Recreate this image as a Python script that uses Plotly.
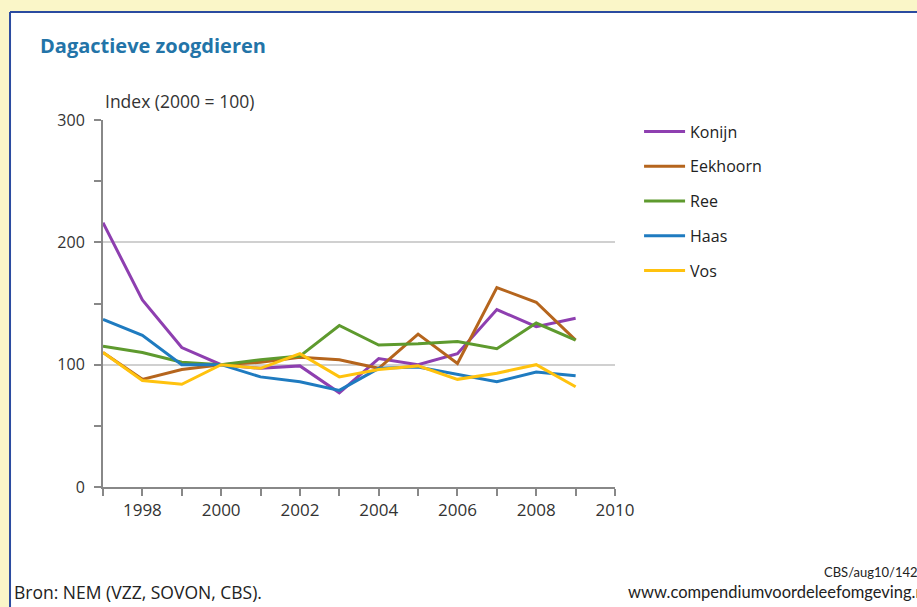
import plotly.graph_objects as go

years = list(range(1997, 2010))
konijn = [216, 153, 114, 100, 97, 99, 77, 105, 100, 109, 145, 131, 138]
eekhoorn = [110, 88, 96, 100, 102, 106, 104, 97, 125, 101, 163, 151, 120]
ree = [115, 110, 102, 100, 104, 107, 132, 116, 117, 119, 113, 134, 120]
haas = [137, 124, 100, 100, 90, 86, 79, 97, 98, 92, 86, 94, 91]
vos = [110, 87, 84, 100, 97, 109, 90, 96, 99, 88, 93, 100, 82]

series = [
    ("Konijn", konijn, "#8E3FB0"),
    ("Eekhoorn", eekhoorn, "#B5651D"),
    ("Ree", ree, "#5E9A2E"),
    ("Haas", haas, "#1F7BC0"),
    ("Vos", vos, "#FFC20E"),
]

x_ticks = [1998, 2000, 2002, 2004, 2006, 2008, 2010]
y_ticks = [0, 100, 200, 300]

fig = go.Figure()
for name, vals, col in series:
    fig.add_trace(go.Scatter(x=years, y=vals, name=name, mode="lines",
                             legendgroup=name,
                             line=dict(color=col, width=3)))

font = "'Open Sans', sans-serif"
yellow = "#FAF6C8"
border = "#2B4BA0"

fig.update_layout(
    width=917, height=607,
    margin=dict(l=103, r=302, t=120, b=120),
    paper_bgcolor="white",
    plot_bgcolor="white",
    font=dict(family=font, size=15, color="#333333"),
    showlegend=True,
    legend=dict(x=1.047, y=1.015, xanchor="left", yanchor="top",
                bgcolor="rgba(0,0,0,0)", font=dict(size=16, color="#222222"),
                tracegroupgap=11, itemwidth=41),
    xaxis=dict(range=[1997, 2010], tickvals=x_ticks, ticktext=[str(t) for t in x_ticks],
               showgrid=False, zeroline=False, showline=True, linecolor="#888888",
               linewidth=2, ticks="outside", ticklen=7, tickwidth=2, tickcolor="#888888",
               minor=dict(dtick=1, ticks="outside", ticklen=7, tickwidth=2, tickcolor="#888888"),
               tickfont=dict(size=17, color="#333333"), fixedrange=True),
    yaxis=dict(range=[0, 300], tickvals=y_ticks, ticktext=[str(t) for t in y_ticks],
               showgrid=True, gridcolor="#D0D0D0", gridwidth=2, zeroline=False,
               showline=True, linecolor="#888888", linewidth=2,
               ticks="outside", ticklen=7, tickwidth=2, tickcolor="#888888",
               ticklabelstandoff=6,
               minor=dict(dtick=50, ticks="outside", ticklen=7, tickwidth=2, tickcolor="#888888"),
               tickfont=dict(size=16, color="#333333"), fixedrange=True),
    shapes=[
        # yellow frame strips (top and left), white page elsewhere
        dict(type="rect", xref="paper", yref="paper", layer="below",
             x0=-0.25, x1=1.7, y0=1.294, y1=1.5,
             fillcolor=yellow, line=dict(width=0)),
        dict(type="rect", xref="paper", yref="paper", layer="below",
             x0=-0.25, x1=-0.1816, y0=-0.5, y1=1.5,
             fillcolor=yellow, line=dict(width=0)),
        dict(type="line", xref="paper", yref="paper", layer="below",
             x0=-0.1816, x1=1.7, y0=1.294, y1=1.294,
             line=dict(color=border, width=2)),
        dict(type="line", xref="paper", yref="paper", layer="below",
             x0=-0.1816, x1=-0.1816, y0=-0.5, y1=1.294,
             line=dict(color=border, width=2)),
    ],
    annotations=[
        dict(text="<b>Dagactieve zoogdieren</b>", xref="paper", yref="paper",
             x=-0.127, y=1.204, xanchor="left", yanchor="middle", showarrow=False,
             font=dict(size=20, color="#2374A8", family=font)),
        dict(text="Index (2000 = 100)", xref="paper", yref="paper",
             x=0.0, y=1.052, xanchor="left", yanchor="middle", showarrow=False,
             font=dict(size=17.5, color="#333333", family=font)),
        dict(text="Bron: NEM (VZZ, SOVON, CBS).", xref="paper", yref="paper",
             x=-0.178, y=-0.286, xanchor="left", yanchor="middle", showarrow=False,
             font=dict(size=17.5, color="#222222", family=font)),
        dict(text="CBS/aug10/1420", xref="paper", yref="paper",
             x=1.611, y=-0.232, xanchor="right", yanchor="middle", showarrow=False,
             font=dict(size=13, color="#222222", family="Lato, sans-serif")),
        dict(text="www.compendiumvoordeleefomgeving.nl", xref="paper", yref="paper",
             x=1.617, y=-0.286, xanchor="right", yanchor="middle", showarrow=False,
             font=dict(size=16.5, color="#222222", family="Lato, sans-serif")),
    ],
)

fig.write_html(
    "out.html",
    config={"displayModeBar": False},
    post_script=("document.documentElement.style.margin='0';"
                 "document.documentElement.style.overflow='hidden';"
                 "document.body.style.margin='0';"
                 "document.body.style.overflow='hidden';"
                 "document.body.style.background='white';"),
)
